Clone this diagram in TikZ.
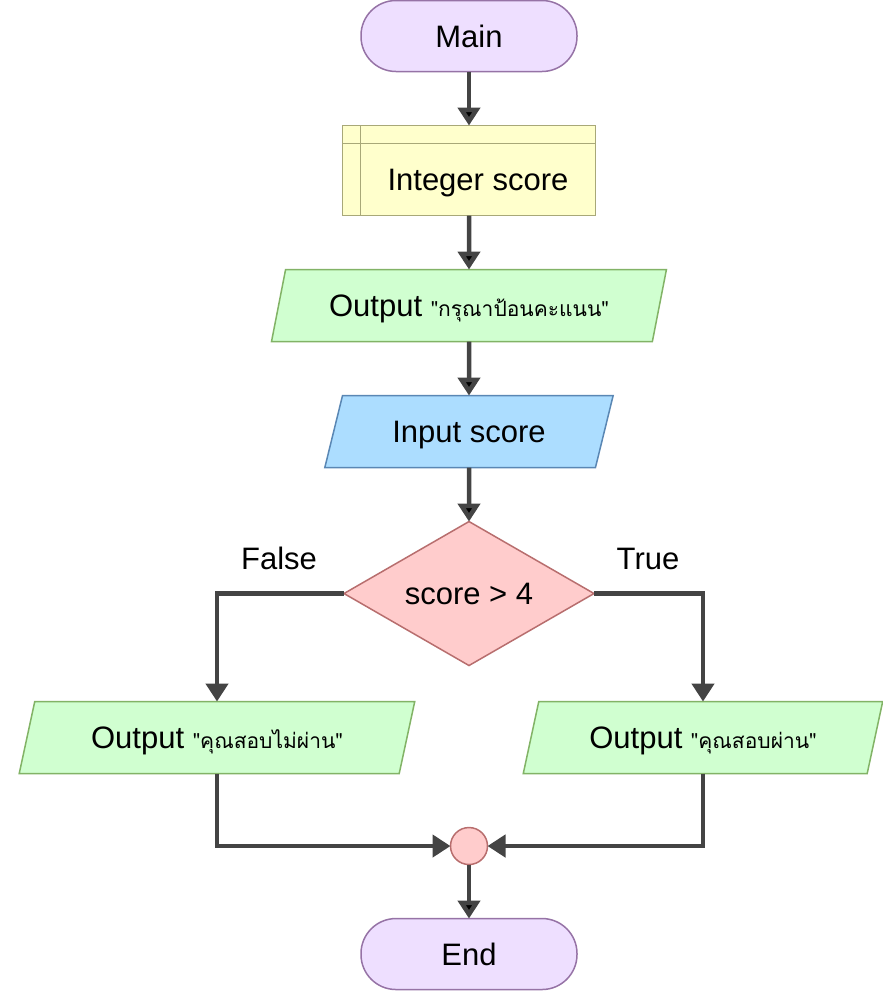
\documentclass[tikz,border=0pt]{standalone}
\usepackage{fontspec}
\setmainfont{Liberation Sans}
\newfontfamily\thaifont[Script=Thai]{Loma}
\usetikzlibrary{positioning,shapes.geometric,arrows.meta}
\definecolor{termfill}{RGB}{238,223,255}
\definecolor{termline}{RGB}{150,115,166}
\definecolor{declfill}{RGB}{255,255,204}
\definecolor{declline}{RGB}{168,168,120}
\definecolor{outfill}{RGB}{208,255,208}
\definecolor{outline}{RGB}{130,179,102}
\definecolor{infill}{RGB}{172,221,255}
\definecolor{inline}{RGB}{90,135,180}
\definecolor{decfill}{RGB}{255,204,204}
\definecolor{decline}{RGB}{184,110,110}
\definecolor{wire}{RGB}{68,68,68}
\newcommand{\thaistr}[1]{{\thaifont\fontsize{21}{25}\selectfont"#1"}}

\begin{document}
\begin{tikzpicture}[font=\fontsize{31}{37}\selectfont, every node/.append style={text height=22pt, text depth=0pt}]
\tikzstyle{term}=[rectangle, rounded corners=35pt, minimum width=216pt, minimum height=71pt, outer sep=0pt, fill=termfill, draw=termline, line width=1.5pt, node distance=54pt]
\tikzstyle{decl}=[rectangle, minimum width=253pt, minimum height=90pt, outer sep=0pt, fill=declfill, draw=declline, line width=1.5pt, node distance=54pt]
\tikzstyle{io}=[trapezium, trapezium left angle=64, trapezium right angle=116, trapezium stretches=true, minimum height=72pt, inner sep=0pt, outer sep=0pt, line width=1.5pt, node distance=54pt]
\tikzstyle{outbox}=[io, fill=outfill, draw=outline]
\tikzstyle{inbox}=[io, fill=infill, draw=inline]
\tikzstyle{dec}=[diamond, aspect=1.74, minimum width=250pt, minimum height=144pt, inner sep=0pt, outer sep=0pt, fill=decfill, draw=decline, line width=1.5pt, node distance=54pt]
\tikzstyle{merge}=[circle, minimum size=37pt, inner sep=0pt, outer sep=0pt, fill=decfill, draw=decline, line width=1.5pt]
\tikzstyle{connect}=[-{Triangle[length=18pt,width=22pt]}, line width=4.5pt, draw=wire]
  \useasboundingbox (0,0) rectangle (883pt,-991pt);
  \node[term] (main) at (469pt,-36pt) {Main};
  \node[decl] (intg) [below=of main] {};
  \draw[declline, line width=1.5pt] ([xshift=18pt]intg.north west) -- ([xshift=18pt]intg.south west);
  \draw[declline, line width=1.5pt] ([yshift=-18pt]intg.north west) -- ([yshift=-18pt]intg.north east);
  \node (intgtxt) at ([shift={(9pt,-9pt)}]intg.center) {Integer score};
  \node[outbox, minimum width=396pt] (ask) [below=of intg] {Output \thaistr{กรุณาป้อนคะแนน}};
  \node[inbox, minimum width=289pt] (inp) [below=of ask] {Input score};
  \node[dec] (dia) [below=of inp] {score > 4};
  \node[outbox, minimum width=397pt] (fail) [below=36pt of dia, xshift=-252pt] {Output \thaistr{คุณสอบไม่ผ่าน}};
  \node[outbox, minimum width=360pt] (pass) [below=36pt of dia, xshift=234pt] {Output \thaistr{คุณสอบผ่าน}};
  \node[merge] (mrg) [below=162pt of dia] {};
  \node[term] (fin) [below=54pt of mrg] {End};
  \node (fls) at (279pt,-558pt) {False};
  \node (tru) at (648pt,-558pt) {True};
  \path[connect] (main) edge (intg)
           (intg) edge (ask)
           (ask) edge (inp)
           (inp) edge (dia)
           (mrg) edge (fin)
           ;
  \draw[connect] (dia) -| (fail);
  \draw[connect] (dia) -| (pass);
  \draw[connect] (fail) |- (mrg);
  \draw[connect] (pass) |- (mrg);
\end{tikzpicture}
\end{document}
